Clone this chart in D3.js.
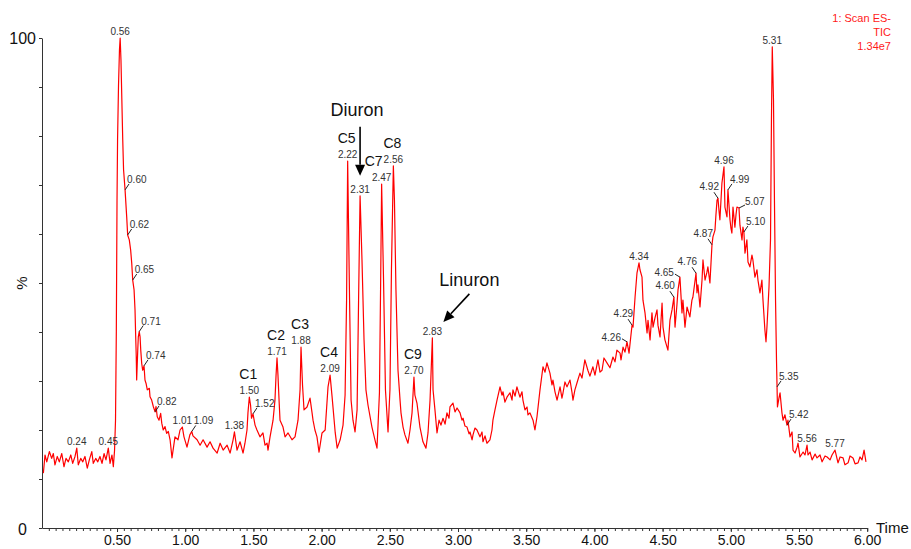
<!DOCTYPE html>
<html>
<head>
<meta charset="utf-8">
<script src="https://cdn.jsdelivr.net/npm/d3@7"></script>
<style>
  body { margin: 0; background: #fff; overflow: hidden; }
  svg { display: block; }
</style>
</head>
<body>
<script>
// TIC trace, [time (min), relative intensity (%)]
const tic = [
  [-0.040,11.2],[-0.028,14.9],[-0.015,13.5],[0.004,15.6],[0.021,14.2],[0.033,15.2],[0.045,12.9],[0.062,14.6],[0.077,13.5],[0.095,15.2],
  [0.111,12.5],[0.126,14.2],[0.143,13.5],[0.161,14.9],[0.175,13.2],[0.192,14.6],[0.205,16.3],[0.216,12.9],[0.234,14.2],[0.249,13.5],
  [0.265,14.6],[0.282,12.2],[0.297,13.9],[0.315,15.6],[0.326,13.2],[0.344,14.2],[0.359,13.5],[0.375,14.6],[0.390,13.2],[0.405,15.2],
  [0.419,13.9],[0.436,16.3],[0.449,13.2],[0.463,14.9],[0.473,12.5],[0.482,15.9],
  [0.489,22.0],[0.495,40.4],[0.500,66.9],[0.504,79.2],[0.511,90.4],[0.518,97.6],[0.523,100.0],[0.529,95.5],[0.537,85.3],[0.542,79.2],
  [0.548,73.1],[0.559,69.0],[0.571,63.5],[0.578,59.8],[0.590,58.8],[0.600,56.7],[0.608,54.0],[0.615,50.6],[0.625,48.6],[0.632,44.5],
  [0.637,39.0],[0.641,35.0],[0.644,30.2],[0.652,36.3],[0.656,39.0],[0.663,40.1],[0.669,39.0],[0.674,36.3],[0.681,33.6],[0.688,32.2],
  [0.698,33.1],[0.705,30.2],[0.713,29.5],[0.722,28.2],[0.737,28.5],[0.742,26.8],[0.754,26.1],[0.766,24.8],[0.779,23.7],[0.786,24.8],
  [0.795,22.7],[0.808,22.0],[0.820,23.4],[0.828,21.4],[0.839,20.0],[0.852,20.7],[0.864,19.3],[0.876,19.7],[0.889,18.0],[0.903,14.3],
  [0.925,18.6],[0.947,18.0],[0.962,20.0],[0.979,20.6],[0.991,18.6],[1.013,16.5],[1.034,19.0],[1.048,19.7],[1.057,18.8],[1.087,18.0],
  [1.109,16.9],[1.131,18.0],[1.160,16.5],[1.182,17.6],[1.204,16.3],[1.234,15.3],[1.256,17.3],[1.278,15.9],[1.307,16.9],[1.329,15.3],
  [1.351,18.0],[1.361,19.6],[1.380,15.9],[1.402,17.6],[1.424,15.3],[1.438,17.3],[1.453,20.0],[1.460,23.5],[1.470,26.7],[1.479,25.1],
  [1.486,22.4],[1.497,23.3],[1.512,21.0],[1.526,20.0],[1.548,18.6],[1.570,19.4],[1.585,16.9],[1.600,17.3],[1.607,15.9],[1.622,18.6],
  [1.644,22.0],[1.658,26.1],[1.666,31.2],[1.673,34.7],[1.680,31.2],[1.688,26.1],[1.695,22.0],[1.717,20.6],[1.732,18.6],[1.754,19.4],
  [1.783,18.0],[1.805,18.6],[1.827,22.0],[1.842,28.2],[1.849,36.9],[1.860,29.2],[1.871,24.1],[1.893,24.7],[1.915,26.5],[1.930,23.5],
  [1.937,22.0],[1.951,20.0],[1.966,18.6],[1.981,15.5],[2.003,19.4],[2.026,20.0],[2.047,28.8],[2.062,31.2],[2.077,26.7],[2.100,19.4],
  [2.114,16.3],[2.136,18.0],[2.157,21.0],[2.172,27.1],[2.183,46.5],[2.191,74.9],[2.205,46.5],[2.216,26.1],[2.230,22.0],[2.245,19.6],
  [2.260,24.1],[2.271,46.5],[2.282,67.8],[2.296,54.7],[2.311,38.4],[2.325,28.2],[2.340,25.1],[2.369,20.6],[2.391,18.0],[2.406,16.3],
  [2.413,20.6],[2.424,27.6],[2.433,50.6],[2.440,70.2],[2.454,50.6],[2.468,28.2],[2.487,19.6],[2.501,28.2],[2.512,52.7],[2.526,73.9],
  [2.534,66.9],[2.545,48.6],[2.560,32.2],[2.575,26.1],[2.582,23.5],[2.597,20.6],[2.611,19.0],[2.633,17.3],[2.648,20.0],[2.663,23.5],
  [2.677,30.8],[2.684,27.1],[2.699,25.5],[2.721,20.6],[2.743,17.6],[2.765,16.3],[2.780,19.4],[2.795,26.1],[2.812,38.8],[2.817,28.2],
  [2.831,24.1],[2.846,19.4],[2.861,22.0],[2.875,21.0],[2.890,22.4],[2.905,21.2],[2.919,23.5],[2.934,22.4],[2.941,24.7],[2.963,25.5],
  [2.978,23.7],[2.993,24.5],[3.015,23.5],[3.029,22.0],[3.037,22.4],[3.051,20.8],[3.066,20.6],[3.081,19.2],[3.088,19.6],[3.103,18.0],
  [3.110,19.0],[3.124,20.4],[3.139,20.0],[3.161,18.6],[3.176,19.6],[3.183,17.6],[3.198,18.8],[3.212,17.3],[3.234,18.0],[3.249,20.0],
  [3.256,22.0],[3.271,24.1],[3.286,26.1],[3.308,28.8],[3.322,27.1],[3.330,27.8],[3.344,25.7],[3.359,26.7],[3.381,27.6],[3.396,26.1],
  [3.403,28.2],[3.418,26.9],[3.432,28.8],[3.454,26.7],[3.469,27.8],[3.476,26.1],[3.491,24.1],[3.506,24.7],[3.513,23.1],[3.527,23.5],
  [3.550,22.0],[3.564,20.0],[3.579,22.7],[3.601,28.2],[3.623,32.9],[3.638,31.8],[3.652,33.7],[3.674,31.6],[3.689,29.2],[3.696,30.2],
  [3.711,27.8],[3.726,26.1],[3.748,28.8],[3.762,26.5],[3.770,27.6],[3.784,29.8],[3.799,28.8],[3.821,30.2],[3.835,27.8],[3.843,26.1],
  [3.857,28.2],[3.872,29.6],[3.894,31.6],[3.909,30.6],[3.930,34.3],[3.952,32.2],[3.967,31.0],[3.989,32.9],[4.004,31.2],[4.026,34.3],
  [4.041,31.8],[4.056,32.2],[4.070,34.7],[4.092,33.7],[4.114,32.7],[4.136,34.9],[4.151,33.9],[4.165,36.3],[4.188,35.7],[4.195,34.3],
  [4.210,36.9],[4.224,35.9],[4.239,38.0],[4.254,35.7],[4.268,39.4],[4.276,41.4],[4.283,41.0],[4.298,47.1],[4.312,52.0],[4.327,54.1],
  [4.334,52.7],[4.349,51.2],[4.356,46.5],[4.371,43.9],[4.386,39.8],[4.393,42.4],[4.408,38.4],[4.422,43.9],[4.430,41.0],[4.444,42.9],
  [4.459,44.5],[4.466,41.4],[4.481,39.0],[4.496,45.9],[4.503,41.0],[4.517,38.4],[4.539,36.3],[4.554,42.4],[4.569,44.5],[4.583,47.1],
  [4.591,41.0],[4.605,45.5],[4.613,48.6],[4.627,51.2],[4.642,43.9],[4.649,46.5],[4.664,41.0],[4.679,45.1],[4.700,43.1],[4.715,46.5],
  [4.722,47.1],[4.745,52.0],[4.752,48.0],[4.759,49.6],[4.774,45.1],[4.789,50.6],[4.796,54.7],[4.811,50.6],[4.825,52.2],[4.832,53.3],
  [4.847,50.0],[4.862,57.8],[4.869,59.4],[4.884,60.8],[4.891,63.9],[4.899,66.9],[4.906,67.3],[4.913,64.9],[4.920,62.9],[4.935,70.4],
  [4.950,73.7],[4.957,65.5],[4.972,63.5],[4.979,69.0],[4.994,62.9],[5.001,61.2],[5.008,60.2],[5.016,65.5],[5.030,61.4],[5.038,63.9],
  [5.045,65.5],[5.060,65.3],[5.067,61.8],[5.082,58.8],[5.089,61.4],[5.096,60.4],[5.104,56.1],[5.118,58.8],[5.126,54.3],[5.140,53.3],
  [5.155,55.7],[5.162,54.7],[5.177,51.2],[5.192,52.7],[5.199,50.6],[5.214,48.0],[5.228,50.6],[5.236,46.5],[5.250,40.4],[5.258,38.0],
  [5.265,41.0],[5.280,49.2],[5.291,58.8],[5.298,83.3],[5.304,98.2],[5.313,87.3],[5.320,66.9],[5.328,46.5],[5.335,34.3],[5.339,28.8],
  [5.342,24.7],[5.353,26.5],[5.361,27.6],[5.375,23.5],[5.383,22.0],[5.397,23.1],[5.412,21.0],[5.419,22.0],[5.434,18.6],[5.449,19.6],
  [5.456,15.9],[5.471,15.3],[5.486,16.5],[5.493,17.3],[5.507,14.5],[5.530,15.5],[5.544,14.9],[5.559,16.9],[5.566,14.9],[5.581,15.5],
  [5.596,13.9],[5.618,15.1],[5.632,14.3],[5.654,14.9],[5.669,13.5],[5.691,14.7],[5.706,14.5],[5.728,13.9],[5.742,14.9],[5.764,15.9],
  [5.786,13.3],[5.801,14.5],[5.823,14.3],[5.837,12.9],[5.860,13.3],[5.874,14.7],[5.896,14.3],[5.911,13.1],[5.933,13.3],[5.947,14.5],
  [5.962,13.9],[5.977,15.9],[5.991,13.5]
];

// peak annotations: printed retention time, where it sits on the trace, and which way its label leans
// t = above, r = up-right, R = right, l = left, u = up-left
const peakLabels = ["0.24","0.45","0.56","0.60","0.62","0.65","0.71","0.74","0.82","1.01","1.09","1.38","1.50","1.52",
  "1.71","1.88","2.09","2.22","2.31","2.47","2.56","2.70","2.83","4.26","4.29","4.34","4.60","4.65","4.76","4.87",
  "4.92","4.96","4.99","5.07","5.10","5.31","5.35","5.42","5.56","5.77"];
const peakTimes = [0.205,0.436,0.523,0.559,0.578,0.615,0.663,0.698,0.779,0.979,1.048,1.361,1.470,1.497,
  1.673,1.849,2.062,2.191,2.282,2.440,2.526,2.677,2.812,4.239,4.276,4.327,4.583,4.627,4.745,4.862,
  4.906,4.950,4.979,5.060,5.096,5.304,5.339,5.412,5.559,5.764];
const peakSides = ["t","t","t","r","r","r","r","r","r","t","r","t","t","r",
  "t","t","t","t","t","t","t","t","t","l","u","t","u","l","u","u",
  "u","t","r","R","r","t","r","r","t","t"];

const compoundNames = ["C1","C2","C3","C4","C5","C7","C8","C9"];
const compoundPeaks = ["1.50","1.71","1.88","2.09","2.22","2.47","2.56","2.70"];

const arrowNames = ["Diuron","Linuron"];
const arrowPeaks = ["2.31","2.83"];

const xTickLabels = ["0.50","1.00","1.50","2.00","2.50","3.00","3.50","4.00","4.50","5.00","5.50","6.00"];
const headerLines = ["1: Scan ES-","TIC","1.34e7"];

const W = 911, H = 549;
const FONT = '"Liberation Sans", Arial, Helvetica, sans-serif';

const svg = d3.select("body").append("svg")
    .attr("width", W)
    .attr("height", H)
    .style("font-family", FONT);

const x = d3.scaleLinear().domain([-0.05, 6]).range([42, 867.2]);
const y = d3.scaleLinear().domain([0, 100]).range([528, 38]);

// axes
const minorTicks = d3.range(0, 121).map(i => i * 0.05);
svg.append("g")
    .attr("class", "xaxis")
    .attr("transform", "translate(0,528)")
    .call(d3.axisBottom(x).tickValues(minorTicks).tickSize(3).tickSizeOuter(0).tickFormat(""))
    .call(g => g.selectAll("line,path").attr("stroke", "#333"));

svg.append("g")
    .attr("class", "xlabels")
    .attr("transform", "translate(0,528)")
    .call(d3.axisBottom(x).tickValues(xTickLabels.map(Number)).tickSize(4).tickSizeOuter(0)
        .tickPadding(3).tickFormat((d, i) => xTickLabels[i]))
    .call(g => g.select(".domain").remove())
    .call(g => g.selectAll("line").attr("stroke", "#333"))
    .call(g => g.selectAll("text").attr("fill", "#111").style("font-size", "14px").style("font-family", FONT));

svg.append("g")
    .attr("class", "yaxis")
    .attr("transform", "translate(42,0)")
    .call(d3.axisLeft(y).tickValues(d3.range(0, 101, 10)).tickSize(3).tickSizeOuter(0).tickFormat(""))
    .call(g => g.selectAll("line,path").attr("stroke", "#333"));

svg.append("text").attr("x", 36).attr("y", y(100) + 6).attr("text-anchor", "end")
    .style("font-size", "16px").attr("fill", "#111").text("100");
svg.append("text").attr("x", 27).attr("y", y(0) + 7).attr("text-anchor", "end")
    .style("font-size", "16px").attr("fill", "#111").text("0");
svg.append("text").attr("transform", "translate(27," + y(50) + ") rotate(-90)")
    .attr("text-anchor", "middle").style("font-size", "15px").attr("fill", "#111").text("%");
svg.append("text").attr("x", 876).attr("y", 533)
    .style("font-size", "15px").attr("fill", "#111").text("Time");

// header
svg.append("g").selectAll("text").data(headerLines).enter().append("text")
    .attr("x", 891).attr("y", (d, i) => 22 + i * 14)
    .attr("text-anchor", "end").attr("fill", "#ff1a1a")
    .style("font-size", "11px").text(d => d);

// trace
const line = d3.line().x(d => x(d[0])).y(d => y(d[1]));
svg.append("path")
    .datum(tic)
    .attr("d", line)
    .attr("fill", "none")
    .attr("stroke", "#ff0000")
    .attr("stroke-width", 1.2)
    .attr("stroke-linejoin", "round");

function nearest(t) {
    let best = tic[0];
    tic.forEach(d => { if (Math.abs(d[0] - t) < Math.abs(best[0] - t)) best = d; });
    return best;
}

// leader end (dx, dy) and text anchor point for each lean
const lean = {
    r: {lx: 4, ly: -6, tx: 2, ty: -7, anchor: "start"},
    R: {lx: 6, ly: -3, tx: 6, ty: -3, anchor: "start"},
    l: {lx: -5, ly: -3, tx: -6, ty: -1, anchor: "end"},
    u: {lx: -4, ly: -6, tx: 1, ty: -8, anchor: "end"}
};

const peakPos = {};
const gPeaks = svg.append("g").attr("class", "peaks");
peakLabels.forEach((label, i) => {
    const d = nearest(peakTimes[i]);
    const px = x(d[0]), py = y(d[1]);
    const side = peakSides[i];
    peakPos[label] = {px, py};
    if (side === "t") {
        gPeaks.append("text").attr("x", px).attr("y", py - 3).attr("text-anchor", "middle")
            .style("font-size", "10px").attr("fill", "#333").text(label);
    } else {
        const o = lean[side];
        gPeaks.append("line")
            .attr("x1", px).attr("y1", py).attr("x2", px + o.lx).attr("y2", py + o.ly)
            .attr("stroke", "#222").attr("stroke-width", 1);
        gPeaks.append("text")
            .attr("x", px + o.tx).attr("y", py + o.ty)
            .attr("text-anchor", o.anchor)
            .style("font-size", "10px").attr("fill", "#333").text(label);
    }
});

// compound names above their peaks
const compoundShift = {C7: -7};
compoundNames.forEach((name, i) => {
    const p = peakPos[compoundPeaks[i]];
    svg.append("text")
        .attr("x", p.px - 1 + (compoundShift[name] || 0)).attr("y", p.py - 18)
        .attr("text-anchor", "middle").style("font-size", "14px").attr("fill", "#111")
        .text(name);
});

// arrows
function arrow(x1, y1, x2, y2) {
    const a = Math.atan2(y2 - y1, x2 - x1);
    const len = 11, half = 5;
    const bx = x2 - len * Math.cos(a), by = y2 - len * Math.sin(a);
    svg.append("line").attr("x1", x1).attr("y1", y1).attr("x2", bx).attr("y2", by)
        .attr("stroke", "#000").attr("stroke-width", 1.6);
    svg.append("polygon")
        .attr("points", [
            [x2, y2],
            [bx + half * Math.sin(a), by - half * Math.cos(a)],
            [bx - half * Math.sin(a), by + half * Math.cos(a)]
        ].map(p => p.join(",")).join(" "))
        .attr("fill", "#000");
}

arrowNames.forEach((name, i) => {
    const p = peakPos[arrowPeaks[i]];
    if (name === "Diuron") {
        arrow(p.px, p.py - 69, p.px, p.py - 20);
        svg.append("text").attr("x", p.px - 3).attr("y", p.py - 80).attr("text-anchor", "middle")
            .style("font-size", "18px").attr("fill", "#111").text(name);
    } else {
        arrow(p.px + 37, p.py - 44, p.px + 11, p.py - 16);
        svg.append("text").attr("x", p.px + 37).attr("y", p.py - 52).attr("text-anchor", "middle")
            .style("font-size", "18px").attr("fill", "#111").text(name);
    }
});
</script>
</body>
</html>
